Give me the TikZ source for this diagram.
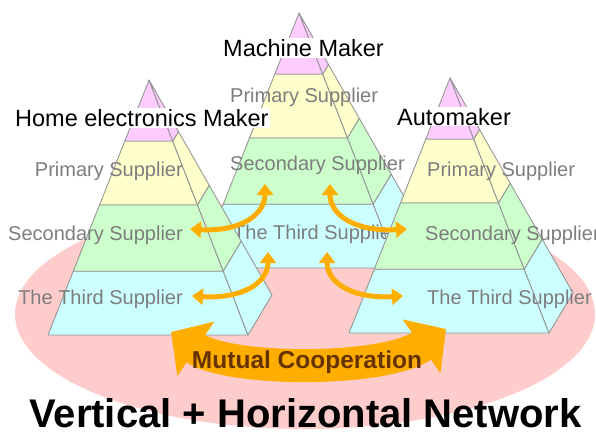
\documentclass[tikz,border=0pt]{standalone}
\usepackage{fontspec}
\setmainfont{Liberation Sans}
\usetikzlibrary{arrows.meta}

\definecolor{pyrpink}{RGB}{255,204,255}
\definecolor{pyryellow}{RGB}{255,255,204}
\definecolor{pyrgreen}{RGB}{204,255,204}
\definecolor{pyrcyan}{RGB}{204,255,255}
\definecolor{edgegray}{RGB}{150,150,150}
\definecolor{tiergray}{RGB}{125,125,125}
\definecolor{netpink}{RGB}{255,204,204}
\definecolor{coop}{RGB}{255,174,0}
\definecolor{coopbrown}{RGB}{102,51,0}

\tikzset{
  layer/.style={draw=edgegray,line width=0.9pt,line join=round},
  tier/.style={text=tiergray,font=\fontsize{20}{20}\selectfont,inner sep=0pt},
  maker/.style={fill=white,inner sep=1pt,anchor=base west,font=\fontsize{23.5}{23.5}\selectfont},
  linkarrow/.style={draw=coop,line width=5pt,{Triangle[width=16pt,length=11pt]}-{Triangle[width=16pt,length=11pt]}},
}

% 金字塔：顶点 (#1,#2)
\newcommand{\pyramid}[2]{%
  \begin{scope}[shift={(#1,#2)}]
    \foreach \ta/\tb/\col in {0/0.24/pyrpink,0.24/0.49/pyryellow,0.49/0.75/pyrgreen,0.75/1/pyrcyan}{
      \filldraw[layer,fill=\col] ({-101*\ta},{255*\ta}) -- ({-101*\tb},{255*\tb}) -- ({99*\tb},{255*\tb}) -- ({99*\ta},{255*\ta}) -- cycle;
      \filldraw[layer,fill=\col] ({99*\ta},{255*\ta}) -- ({99*\tb},{255*\tb}) -- ({123*\tb},{215*\tb}) -- ({123*\ta},{215*\ta}) -- cycle;
    }
  \end{scope}}

\begin{document}
\begin{tikzpicture}[x=1pt,y=-1pt]
  \useasboundingbox (0,0) rectangle (596,436);
  % 背景椭圆
  \fill[netpink] (305,314) ellipse [x radius=290pt,y radius=115pt];
  % 中间金字塔
  \pyramid{299}{13}
  \node[tier,anchor=base west] (mPri) at (230,102) {Primary Supplier};
  \node[tier,anchor=base west] (mSec) at (230,170) {Secondary Supplier};
  \node[tier,anchor=base west] (mThi) at (233,239) {The Third Supplier};
  % 左右金字塔
  \pyramid{149}{80}
  \node[tier,anchor=base east] (lPri) at (183,176) {Primary Supplier};
  \node[tier,anchor=base east] (lSec) at (183,240) {Secondary Supplier};
  \node[tier,anchor=base east] (lThi) at (183,304) {The Third Supplier};
  \pyramid{450}{78}
  \node[tier,anchor=base west] (rPri) at (427,176) {Primary Supplier};
  \node[tier,anchor=base west] (rSec) at (425,240) {Secondary Supplier};
  \node[tier,anchor=base west] (rThi) at (427,304) {The Third Supplier};
  % 横向箭头
  \draw[linkarrow] (190,229) .. controls (240,232) and (265,215) .. (265,184);
  \draw[linkarrow] (192,296) .. controls (242,299) and (268,283) .. (268,252);
  \draw[linkarrow] (330,184) .. controls (330,215) and (355,232) .. (407,229);
  \draw[linkarrow] (327,252) .. controls (327,283) and (353,299) .. (403,296);
  % 相互协作
  \draw[coop,line width=33pt,{Triangle[width=64pt,length=30pt]}-{Triangle[width=64pt,length=30pt]}]
    (171,332) .. controls (230,372) and (385,372) .. (446,329);
  \node[anchor=base,text=coopbrown,inner sep=0pt,font=\bfseries\fontsize{24.5}{24.5}\selectfont] (coopText) at (307,368) {Mutual Cooperation};
  % 制造商
  \node[maker] (home) at (14,126.5) {Home electronics Maker};
  \node[maker] (machine) at (222,56.5) {Machine Maker};
  \node[maker] (auto) at (396,125) {Automaker};
  % 标题
  \node[anchor=base,inner sep=0pt,font=\bfseries\fontsize{40}{40}\selectfont] (title) at (305.5,427) {Vertical + Horizontal Network};
\end{tikzpicture}
\end{document}
